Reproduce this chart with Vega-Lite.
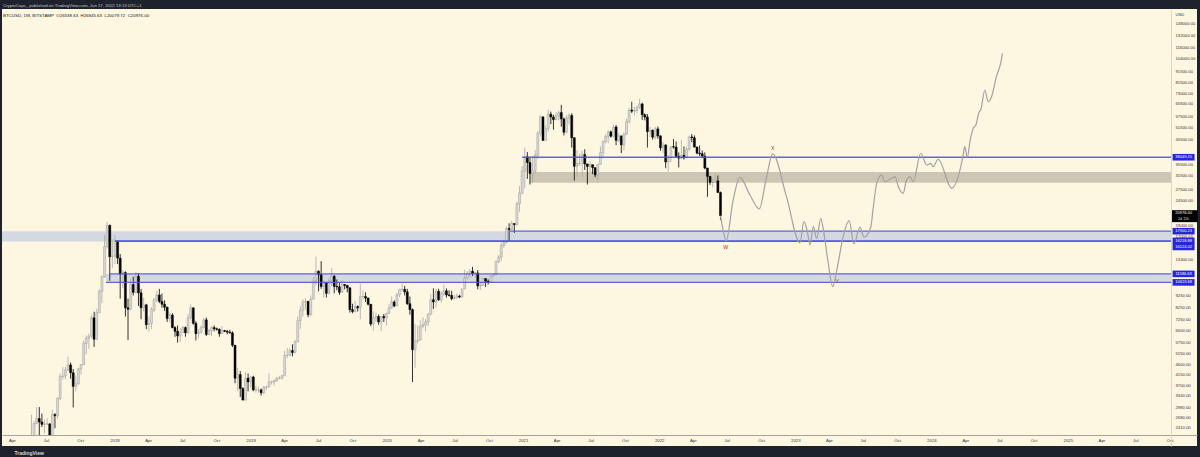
{
  "$schema": "https://vega.github.io/schema/vega-lite/v6.json",
  "width": 1195,
  "height": 437,
  "autosize": {"type": "none"},
  "padding": {"left": 2, "top": 9, "right": 3, "bottom": 11},
  "background": "#1e222d",
  "view": {"fill": "#fdf7e1", "stroke": null},
  "title": {
    "text": "CryptoCaps_ published on TradingView.com, Jun 17, 2022 13:13 UTC+1",
    "subtitle": "\u00a0BTCUSD,\u00a01W,\u00a0BITSTAMP\u00a0\u00a0O26538.63\u00a0\u00a0H26845.63\u00a0\u00a0L20079.72\u00a0\u00a0C20976.00",
    "anchor": "start",
    "frame": "group",
    "font": "Liberation Sans",
    "fontSize": 4.3,
    "fontWeight": "normal",
    "color": "#c3c6ce",
    "subtitleFont": "Liberation Sans",
    "subtitleFontSize": 4.4,
    "subtitleColor": "#131722",
    "subtitlePadding": 5.5,
    "offset": -8,
    "dx": 1,
    "zindex": 1
  },
  "datasets": {
    "candles": [
      {"d":"2017-05-01","o":1350,"h":1600,"l":1340,"c":1560},
      {"d":"2017-05-08","o":1560,"h":1860,"l":1530,"c":1790},
      {"d":"2017-05-15","o":1790,"h":2100,"l":1750,"c":2050},
      {"d":"2017-05-22","o":2050,"h":2760,"l":1950,"c":2200},
      {"d":"2017-05-29","o":2200,"h":2580,"l":2100,"c":2520},
      {"d":"2017-06-05","o":2520,"h":2980,"l":2500,"c":2650},
      {"d":"2017-06-12","o":2650,"h":2980,"l":2150,"c":2560},
      {"d":"2017-06-19","o":2560,"h":2790,"l":2430,"c":2500},
      {"d":"2017-06-26","o":2500,"h":2620,"l":2280,"c":2510},
      {"d":"2017-07-03","o":2510,"h":2660,"l":2480,"c":2510},
      {"d":"2017-07-10","o":2510,"h":2530,"l":1840,"c":1930},
      {"d":"2017-07-17","o":1930,"h":2900,"l":1830,"c":2760},
      {"d":"2017-07-24","o":2760,"h":2800,"l":2400,"c":2730},
      {"d":"2017-07-31","o":2730,"h":3300,"l":2650,"c":3250},
      {"d":"2017-08-07","o":3250,"h":4200,"l":3200,"c":4070},
      {"d":"2017-08-14","o":4070,"h":4480,"l":3950,"c":4090},
      {"d":"2017-08-21","o":4090,"h":4470,"l":3950,"c":4350},
      {"d":"2017-08-28","o":4350,"h":4980,"l":4300,"c":4580},
      {"d":"2017-09-04","o":4580,"h":4690,"l":3980,"c":4230},
      {"d":"2017-09-11","o":4230,"h":4390,"l":2970,"c":3680},
      {"d":"2017-09-18","o":3680,"h":4120,"l":3500,"c":3780},
      {"d":"2017-09-25","o":3780,"h":4450,"l":3750,"c":4400},
      {"d":"2017-10-02","o":4400,"h":4620,"l":4150,"c":4600},
      {"d":"2017-10-09","o":4600,"h":5860,"l":4580,"c":5700},
      {"d":"2017-10-16","o":5700,"h":6190,"l":5100,"c":6000},
      {"d":"2017-10-23","o":6000,"h":6300,"l":5400,"c":6140},
      {"d":"2017-10-30","o":6140,"h":7600,"l":6040,"c":7400},
      {"d":"2017-11-06","o":7400,"h":7880,"l":5500,"c":5950},
      {"d":"2017-11-13","o":5950,"h":8100,"l":5900,"c":7800},
      {"d":"2017-11-20","o":7800,"h":9900,"l":7780,"c":9700},
      {"d":"2017-11-27","o":9700,"h":11400,"l":8600,"c":11250},
      {"d":"2017-12-04","o":11250,"h":17200,"l":11100,"c":15300},
      {"d":"2017-12-11","o":15300,"h":19700,"l":15000,"c":19000},
      {"d":"2017-12-18","o":19000,"h":19150,"l":10800,"c":13800},
      {"d":"2017-12-25","o":13800,"h":16500,"l":12300,"c":13900},
      {"d":"2018-01-01","o":13900,"h":17250,"l":12800,"c":16200},
      {"d":"2018-01-08","o":16200,"h":16300,"l":12800,"c":13600},
      {"d":"2018-01-15","o":13600,"h":14200,"l":9000,"c":11550},
      {"d":"2018-01-22","o":11550,"h":12000,"l":10000,"c":11750},
      {"d":"2018-01-29","o":11750,"h":11900,"l":7500,"c":8200},
      {"d":"2018-02-05","o":8200,"h":9000,"l":5900,"c":8080},
      {"d":"2018-02-12","o":8080,"h":11000,"l":8000,"c":10400},
      {"d":"2018-02-19","o":10400,"h":11250,"l":9300,"c":9600},
      {"d":"2018-02-26","o":9600,"h":11800,"l":9500,"c":11300},
      {"d":"2018-03-05","o":11300,"h":11700,"l":8350,"c":9550},
      {"d":"2018-03-12","o":9550,"h":9950,"l":7300,"c":8200},
      {"d":"2018-03-19","o":8200,"h":9100,"l":7900,"c":8450},
      {"d":"2018-03-26","o":8450,"h":8540,"l":6600,"c":6900},
      {"d":"2018-04-02","o":6900,"h":7500,"l":6450,"c":7000},
      {"d":"2018-04-09","o":7000,"h":8250,"l":6600,"c":8050},
      {"d":"2018-04-16","o":8050,"h":9050,"l":7850,"c":8900},
      {"d":"2018-04-23","o":8900,"h":9750,"l":8700,"c":9350},
      {"d":"2018-04-30","o":9350,"h":9950,"l":8600,"c":8750},
      {"d":"2018-05-07","o":8750,"h":9480,"l":8200,"c":8500},
      {"d":"2018-05-14","o":8500,"h":8850,"l":7950,"c":8250},
      {"d":"2018-05-21","o":8250,"h":8300,"l":7100,"c":7350},
      {"d":"2018-05-28","o":7350,"h":7800,"l":7050,"c":7620},
      {"d":"2018-06-04","o":7620,"h":7760,"l":6650,"c":6700},
      {"d":"2018-06-11","o":6700,"h":6800,"l":6100,"c":6450},
      {"d":"2018-06-18","o":6450,"h":6850,"l":5750,"c":6150},
      {"d":"2018-06-25","o":6150,"h":6650,"l":5800,"c":6350},
      {"d":"2018-07-02","o":6350,"h":6800,"l":6350,"c":6700},
      {"d":"2018-07-09","o":6700,"h":6780,"l":6100,"c":6350},
      {"d":"2018-07-16","o":6350,"h":7700,"l":6300,"c":7400},
      {"d":"2018-07-23","o":7400,"h":8480,"l":7300,"c":8200},
      {"d":"2018-07-30","o":8200,"h":8200,"l":6900,"c":7000},
      {"d":"2018-08-06","o":7000,"h":7150,"l":5880,"c":6300},
      {"d":"2018-08-13","o":6300,"h":6620,"l":6000,"c":6400},
      {"d":"2018-08-20","o":6400,"h":6850,"l":6300,"c":6700},
      {"d":"2018-08-27","o":6700,"h":7400,"l":6650,"c":7250},
      {"d":"2018-09-03","o":7250,"h":7420,"l":6150,"c":6250},
      {"d":"2018-09-10","o":6250,"h":6600,"l":6200,"c":6500},
      {"d":"2018-09-17","o":6500,"h":6800,"l":6150,"c":6700},
      {"d":"2018-09-24","o":6700,"h":6850,"l":6450,"c":6620},
      {"d":"2018-10-01","o":6620,"h":6700,"l":6500,"c":6580},
      {"d":"2018-10-08","o":6580,"h":6650,"l":6100,"c":6300},
      {"d":"2018-10-15","o":6300,"h":6800,"l":6300,"c":6500},
      {"d":"2018-10-22","o":6500,"h":6550,"l":6400,"c":6450},
      {"d":"2018-10-29","o":6450,"h":6550,"l":6250,"c":6400},
      {"d":"2018-11-05","o":6400,"h":6550,"l":6300,"c":6350},
      {"d":"2018-11-12","o":6350,"h":6450,"l":5500,"c":5600},
      {"d":"2018-11-19","o":5600,"h":5600,"l":3800,"c":4000},
      {"d":"2018-11-26","o":4000,"h":4450,"l":3500,"c":4150},
      {"d":"2018-12-03","o":4150,"h":4300,"l":3300,"c":3600},
      {"d":"2018-12-10","o":3600,"h":3650,"l":3200,"c":3200},
      {"d":"2018-12-17","o":3200,"h":4250,"l":3200,"c":4000},
      {"d":"2018-12-24","o":4000,"h":4200,"l":3500,"c":3850},
      {"d":"2018-12-31","o":3850,"h":4100,"l":3650,"c":4050},
      {"d":"2019-01-07","o":4050,"h":4100,"l":3500,"c":3550},
      {"d":"2019-01-14","o":3550,"h":3700,"l":3450,"c":3550},
      {"d":"2019-01-21","o":3550,"h":3650,"l":3450,"c":3550},
      {"d":"2019-01-28","o":3550,"h":3600,"l":3350,"c":3450},
      {"d":"2019-02-04","o":3450,"h":3700,"l":3400,"c":3650},
      {"d":"2019-02-11","o":3650,"h":3700,"l":3550,"c":3650},
      {"d":"2019-02-18","o":3650,"h":4200,"l":3650,"c":3850},
      {"d":"2019-02-25","o":3850,"h":3900,"l":3750,"c":3850},
      {"d":"2019-03-04","o":3850,"h":3950,"l":3700,"c":3900},
      {"d":"2019-03-11","o":3900,"h":4050,"l":3850,"c":4000},
      {"d":"2019-03-18","o":4000,"h":4100,"l":3950,"c":4000},
      {"d":"2019-03-25","o":4000,"h":4150,"l":3950,"c":4100},
      {"d":"2019-04-01","o":4100,"h":5300,"l":4100,"c":5050},
      {"d":"2019-04-08","o":5050,"h":5450,"l":4900,"c":5050},
      {"d":"2019-04-15","o":5050,"h":5400,"l":5000,"c":5300},
      {"d":"2019-04-22","o":5300,"h":5650,"l":5000,"c":5200},
      {"d":"2019-04-29","o":5200,"h":5900,"l":5150,"c":5800},
      {"d":"2019-05-06","o":5800,"h":7500,"l":5750,"c":7200},
      {"d":"2019-05-13","o":7200,"h":8350,"l":6600,"c":8000},
      {"d":"2019-05-20","o":8000,"h":8950,"l":7500,"c":8700},
      {"d":"2019-05-27","o":8700,"h":9050,"l":8050,"c":8750},
      {"d":"2019-06-03","o":8750,"h":8800,"l":7450,"c":7650},
      {"d":"2019-06-10","o":7650,"h":9300,"l":7550,"c":8950},
      {"d":"2019-06-17","o":8950,"h":11200,"l":8950,"c":10800},
      {"d":"2019-06-24","o":10800,"h":13800,"l":10300,"c":11900},
      {"d":"2019-07-01","o":11900,"h":12000,"l":9700,"c":11500},
      {"d":"2019-07-08","o":11500,"h":13200,"l":9950,"c":10200},
      {"d":"2019-07-15","o":10200,"h":10850,"l":9100,"c":10600},
      {"d":"2019-07-22","o":10600,"h":10650,"l":9100,"c":9500},
      {"d":"2019-07-29","o":9500,"h":11050,"l":9400,"c":10800},
      {"d":"2019-08-05","o":10800,"h":12300,"l":10200,"c":11300},
      {"d":"2019-08-12","o":11300,"h":11450,"l":9500,"c":10200},
      {"d":"2019-08-19","o":10200,"h":10950,"l":9800,"c":10150},
      {"d":"2019-08-26","o":10150,"h":10650,"l":9350,"c":9600},
      {"d":"2019-09-02","o":9600,"h":10900,"l":9600,"c":10400},
      {"d":"2019-09-09","o":10400,"h":10450,"l":9900,"c":10300},
      {"d":"2019-09-16","o":10300,"h":10350,"l":9600,"c":10050},
      {"d":"2019-09-23","o":10050,"h":10100,"l":7800,"c":8050},
      {"d":"2019-09-30","o":8050,"h":8550,"l":7750,"c":7900},
      {"d":"2019-10-07","o":7900,"h":8800,"l":7800,"c":8300},
      {"d":"2019-10-14","o":8300,"h":8400,"l":7900,"c":8200},
      {"d":"2019-10-21","o":8200,"h":10500,"l":7300,"c":9200},
      {"d":"2019-10-28","o":9200,"h":9800,"l":8900,"c":9200},
      {"d":"2019-11-04","o":9200,"h":9600,"l":8700,"c":9050},
      {"d":"2019-11-11","o":9050,"h":9100,"l":8400,"c":8500},
      {"d":"2019-11-18","o":8500,"h":8500,"l":6800,"c":6950},
      {"d":"2019-11-25","o":6950,"h":7900,"l":6500,"c":7400},
      {"d":"2019-12-02","o":7400,"h":7800,"l":7100,"c":7500},
      {"d":"2019-12-09","o":7500,"h":7650,"l":6900,"c":7100},
      {"d":"2019-12-16","o":7100,"h":7500,"l":6450,"c":7500},
      {"d":"2019-12-23","o":7500,"h":7700,"l":7100,"c":7400},
      {"d":"2019-12-30","o":7400,"h":7800,"l":6850,"c":7750},
      {"d":"2020-01-06","o":7750,"h":8500,"l":7700,"c":8200},
      {"d":"2020-01-13","o":8200,"h":9200,"l":8100,"c":8700},
      {"d":"2020-01-20","o":8700,"h":8850,"l":8250,"c":8350},
      {"d":"2020-01-27","o":8350,"h":9550,"l":8350,"c":9350},
      {"d":"2020-02-03","o":9350,"h":9950,"l":9150,"c":9900},
      {"d":"2020-02-10","o":9900,"h":10500,"l":9700,"c":9900},
      {"d":"2020-02-17","o":9900,"h":10250,"l":9300,"c":9650},
      {"d":"2020-02-24","o":9650,"h":9950,"l":8450,"c":8550},
      {"d":"2020-03-02","o":8550,"h":9200,"l":7650,"c":8050},
      {"d":"2020-03-09","o":8050,"h":8150,"l":3850,"c":5350},
      {"d":"2020-03-16","o":5350,"h":6950,"l":4450,"c":5850},
      {"d":"2020-03-23","o":5850,"h":6850,"l":5700,"c":5900},
      {"d":"2020-03-30","o":5900,"h":7200,"l":5880,"c":6800},
      {"d":"2020-04-06","o":6800,"h":7450,"l":6650,"c":6900},
      {"d":"2020-04-13","o":6900,"h":7300,"l":6450,"c":7100},
      {"d":"2020-04-20","o":7100,"h":7750,"l":6800,"c":7700},
      {"d":"2020-04-27","o":7700,"h":9450,"l":7600,"c":8900},
      {"d":"2020-05-04","o":8900,"h":10000,"l":8100,"c":8700},
      {"d":"2020-05-11","o":8700,"h":9950,"l":8200,"c":9700},
      {"d":"2020-05-18","o":9700,"h":9950,"l":8800,"c":8900},
      {"d":"2020-05-25","o":8900,"h":9700,"l":8650,"c":9450},
      {"d":"2020-06-01","o":9450,"h":10400,"l":9250,"c":9750},
      {"d":"2020-06-08","o":9750,"h":9990,"l":9100,"c":9350},
      {"d":"2020-06-15","o":9350,"h":9800,"l":9200,"c":9300},
      {"d":"2020-06-22","o":9300,"h":9750,"l":8850,"c":9000},
      {"d":"2020-06-29","o":9000,"h":9350,"l":8950,"c":9050},
      {"d":"2020-07-06","o":9050,"h":9450,"l":9050,"c":9250},
      {"d":"2020-07-13","o":9250,"h":9350,"l":9050,"c":9150},
      {"d":"2020-07-20","o":9150,"h":9950,"l":9100,"c":9950},
      {"d":"2020-07-27","o":9950,"h":12100,"l":9950,"c":11100},
      {"d":"2020-08-03","o":11100,"h":11900,"l":10950,"c":11550},
      {"d":"2020-08-10","o":11550,"h":12200,"l":11150,"c":11900},
      {"d":"2020-08-17","o":11900,"h":12450,"l":11350,"c":11650},
      {"d":"2020-08-24","o":11650,"h":11800,"l":11150,"c":11700},
      {"d":"2020-08-31","o":11700,"h":12050,"l":9900,"c":10250},
      {"d":"2020-09-07","o":10250,"h":10600,"l":9850,"c":10300},
      {"d":"2020-09-14","o":10300,"h":11150,"l":10250,"c":11050},
      {"d":"2020-09-21","o":11050,"h":11050,"l":10150,"c":10750},
      {"d":"2020-09-28","o":10750,"h":10950,"l":10400,"c":10650},
      {"d":"2020-10-05","o":10650,"h":11450,"l":10550,"c":11350},
      {"d":"2020-10-12","o":11350,"h":11700,"l":11200,"c":11500},
      {"d":"2020-10-19","o":11500,"h":13300,"l":11400,"c":13100},
      {"d":"2020-10-26","o":13100,"h":14050,"l":12950,"c":13750},
      {"d":"2020-11-02","o":13750,"h":15950,"l":13250,"c":15500},
      {"d":"2020-11-09","o":15500,"h":16450,"l":15100,"c":15950},
      {"d":"2020-11-16","o":15950,"h":18800,"l":15800,"c":18400},
      {"d":"2020-11-23","o":18400,"h":19400,"l":16200,"c":18200},
      {"d":"2020-11-30","o":18200,"h":19900,"l":18100,"c":19350},
      {"d":"2020-12-07","o":19350,"h":19400,"l":17600,"c":19150},
      {"d":"2020-12-14","o":19150,"h":24200,"l":19000,"c":23700},
      {"d":"2020-12-21","o":23700,"h":28400,"l":21800,"c":26400},
      {"d":"2020-12-28","o":26400,"h":34800,"l":26100,"c":33000},
      {"d":"2021-01-04","o":33000,"h":41950,"l":27700,"c":38200},
      {"d":"2021-01-11","o":38200,"h":40100,"l":30500,"c":36050},
      {"d":"2021-01-18","o":36050,"h":37800,"l":28800,"c":32250},
      {"d":"2021-01-25","o":32250,"h":38500,"l":29200,"c":33100},
      {"d":"2021-02-01","o":33100,"h":40900,"l":32300,"c":38850},
      {"d":"2021-02-08","o":38850,"h":49700,"l":37400,"c":48650},
      {"d":"2021-02-15","o":48650,"h":58350,"l":47000,"c":57450},
      {"d":"2021-02-22","o":57450,"h":57500,"l":44900,"c":45200},
      {"d":"2021-03-01","o":45200,"h":52600,"l":45000,"c":50950},
      {"d":"2021-03-08","o":50950,"h":61800,"l":49300,"c":59000},
      {"d":"2021-03-15","o":59000,"h":60600,"l":53300,"c":57350},
      {"d":"2021-03-22","o":57350,"h":58600,"l":50400,"c":55800},
      {"d":"2021-03-29","o":55800,"h":60100,"l":55500,"c":58200},
      {"d":"2021-04-05","o":58200,"h":61200,"l":55500,"c":60000},
      {"d":"2021-04-12","o":60000,"h":64900,"l":52000,"c":56200},
      {"d":"2021-04-19","o":56200,"h":57000,"l":47500,"c":49100},
      {"d":"2021-04-26","o":49100,"h":58400,"l":48500,"c":56600},
      {"d":"2021-05-03","o":56600,"h":59500,"l":53100,"c":58250},
      {"d":"2021-05-10","o":58250,"h":59600,"l":42000,"c":46400},
      {"d":"2021-05-17","o":46400,"h":46600,"l":30000,"c":34700},
      {"d":"2021-05-24","o":34700,"h":40900,"l":31200,"c":35650},
      {"d":"2021-05-31","o":35650,"h":39500,"l":34800,"c":35800},
      {"d":"2021-06-07","o":35800,"h":40700,"l":31100,"c":39100},
      {"d":"2021-06-14","o":39100,"h":41300,"l":33400,"c":35550},
      {"d":"2021-06-21","o":35550,"h":35500,"l":28800,"c":34650},
      {"d":"2021-06-28","o":34650,"h":36600,"l":32700,"c":35300},
      {"d":"2021-07-05","o":35300,"h":35100,"l":32100,"c":34250},
      {"d":"2021-07-12","o":34250,"h":34000,"l":31000,"c":31800},
      {"d":"2021-07-19","o":31800,"h":35400,"l":29300,"c":35400},
      {"d":"2021-07-26","o":35400,"h":42500,"l":35200,"c":39850},
      {"d":"2021-08-02","o":39850,"h":45300,"l":37600,"c":44600},
      {"d":"2021-08-09","o":44600,"h":48100,"l":43800,"c":47050},
      {"d":"2021-08-16","o":47050,"h":50000,"l":43900,"c":49300},
      {"d":"2021-08-23","o":49300,"h":49900,"l":46400,"c":47150},
      {"d":"2021-08-30","o":47150,"h":52900,"l":46700,"c":51800},
      {"d":"2021-09-06","o":51800,"h":52800,"l":43000,"c":45200},
      {"d":"2021-09-13","o":45200,"h":48800,"l":44300,"c":47300},
      {"d":"2021-09-20","o":47300,"h":47400,"l":39700,"c":43150},
      {"d":"2021-09-27","o":43150,"h":49000,"l":40800,"c":48200},
      {"d":"2021-10-04","o":48200,"h":56400,"l":47600,"c":54650},
      {"d":"2021-10-11","o":54650,"h":62900,"l":53900,"c":61550},
      {"d":"2021-10-18","o":61550,"h":67000,"l":59800,"c":60900},
      {"d":"2021-10-25","o":60900,"h":63700,"l":58100,"c":61300},
      {"d":"2021-11-01","o":61300,"h":64300,"l":59500,"c":63300},
      {"d":"2021-11-08","o":63300,"h":69000,"l":62400,"c":65500},
      {"d":"2021-11-15","o":65500,"h":66300,"l":55700,"c":58700},
      {"d":"2021-11-22","o":58700,"h":59500,"l":55400,"c":57300},
      {"d":"2021-11-29","o":57300,"h":59100,"l":42000,"c":49400},
      {"d":"2021-12-06","o":49400,"h":51900,"l":46800,"c":50100},
      {"d":"2021-12-13","o":50100,"h":50500,"l":45500,"c":46700},
      {"d":"2021-12-20","o":46700,"h":51900,"l":45600,"c":50800},
      {"d":"2021-12-27","o":50800,"h":52000,"l":45900,"c":47300},
      {"d":"2022-01-03","o":47300,"h":47500,"l":40600,"c":41900},
      {"d":"2022-01-10","o":41900,"h":44500,"l":39700,"c":43100},
      {"d":"2022-01-17","o":43100,"h":43500,"l":34000,"c":36250},
      {"d":"2022-01-24","o":36250,"h":38900,"l":32900,"c":37900},
      {"d":"2022-01-31","o":37900,"h":42600,"l":36200,"c":42400},
      {"d":"2022-02-07","o":42400,"h":45800,"l":41600,"c":42200},
      {"d":"2022-02-14","o":42200,"h":44700,"l":37900,"c":38400},
      {"d":"2022-02-21","o":38400,"h":40000,"l":34300,"c":37700},
      {"d":"2022-02-28","o":37700,"h":45400,"l":37200,"c":38800},
      {"d":"2022-03-07","o":38800,"h":42500,"l":37200,"c":37800},
      {"d":"2022-03-14","o":37800,"h":42300,"l":37600,"c":41300},
      {"d":"2022-03-21","o":41300,"h":47500,"l":40500,"c":46800},
      {"d":"2022-03-28","o":46800,"h":48200,"l":44300,"c":46400},
      {"d":"2022-04-04","o":46400,"h":47500,"l":42100,"c":42200},
      {"d":"2022-04-11","o":42200,"h":42400,"l":39200,"c":39700},
      {"d":"2022-04-18","o":39700,"h":42900,"l":38600,"c":39450},
      {"d":"2022-04-25","o":39450,"h":40800,"l":37700,"c":38500},
      {"d":"2022-05-02","o":38500,"h":40000,"l":33700,"c":34050},
      {"d":"2022-05-09","o":34050,"h":34200,"l":25400,"c":31300},
      {"d":"2022-05-16","o":31300,"h":31300,"l":28700,"c":29450},
      {"d":"2022-05-23","o":29450,"h":30600,"l":28000,"c":29450},
      {"d":"2022-05-30","o":29450,"h":32400,"l":29300,"c":29900},
      {"d":"2022-06-06","o":29900,"h":31600,"l":26600,"c":26540},
      {"d":"2022-06-13","o":26538.63,"h":26845.63,"l":20079.72,"c":20976}
    ],
    "path": [
      {"d":"2022-06-13","p":20976},{"d":"2022-06-20","p":18120},{"d":"2022-06-28","p":16200},
      {"d":"2022-07-17","p":24620},{"d":"2022-08-04","p":31020},{"d":"2022-08-31","p":25900},
      {"d":"2022-09-25","p":22450},{"d":"2022-10-13","p":30180},{"d":"2022-10-31","p":39340},
      {"d":"2022-12-07","p":25460},{"d":"2023-01-12","p":15920},{"d":"2023-01-23","p":19730},
      {"d":"2023-02-01","p":17820},{"d":"2023-02-08","p":15560},{"d":"2023-02-17","p":18740},
      {"d":"2023-02-26","p":16650},{"d":"2023-03-09","p":20420},{"d":"2023-03-16","p":18130},
      {"d":"2023-03-29","p":12910},{"d":"2023-04-10","p":10170},{"d":"2023-04-21","p":12050},
      {"d":"2023-05-08","p":16930},{"d":"2023-05-24","p":19920},{"d":"2023-06-06","p":15720},
      {"d":"2023-06-22","p":18630},{"d":"2023-07-03","p":16830},{"d":"2023-07-21","p":18630},
      {"d":"2023-07-28","p":22990},{"d":"2023-08-06","p":29170},{"d":"2023-08-19","p":31760},
      {"d":"2023-08-28","p":29660},{"d":"2023-09-15","p":30700},{"d":"2023-09-24","p":31210},
      {"d":"2023-10-03","p":28180},{"d":"2023-10-16","p":26340},{"d":"2023-10-25","p":30180},
      {"d":"2023-11-03","p":31210},{"d":"2023-11-12","p":29660},{"d":"2023-12-02","p":39620},
      {"d":"2023-12-18","p":35160},{"d":"2023-12-29","p":35770},{"d":"2024-01-04","p":34560},
      {"d":"2024-01-18","p":37270},{"d":"2024-02-23","p":27720},{"d":"2024-03-25","p":38940},
      {"d":"2024-03-29","p":42370},{"d":"2024-04-05","p":38040},{"d":"2024-04-12","p":44600},
      {"d":"2024-04-21","p":51110},{"d":"2024-04-28","p":52860},{"d":"2024-05-07","p":60540},
      {"d":"2024-05-11","p":61600},{"d":"2024-05-22","p":75520},{"d":"2024-05-31","p":67030},
      {"d":"2024-06-09","p":70540},{"d":"2024-06-22","p":86500},{"d":"2024-07-06","p":104300},
      {"d":"2024-07-08","p":109800}
    ],
    "zones": [
      {"kind":"blue","lo":16124.02,"hi":17900.23,"d":"2017-03-04","d2":"2025-10-04"},
      {"kind":"blue","lo":10623.68,"hi":11586.63,"d":"2017-12-08","d2":"2025-10-04"},
      {"kind":"gray","lo":29370,"hi":32750,"d":"2021-01-18","d2":"2025-10-04"}
    ],
    "lines": [
      {"p":38049.25,"d":"2020-12-28","d2":"2025-10-04"},
      {"p":17900.23,"d":"2020-11-24","d2":"2025-10-04"},
      {"p":16218.88,"d":"2018-01-01","d2":"2025-10-04"},
      {"p":16124.02,"d":"2018-01-01","d2":"2025-10-04"},
      {"p":11586.63,"d":"2017-12-18","d2":"2025-10-04"},
      {"p":10623.68,"d":"2017-12-08","d2":"2025-10-04"}
    ],
    "waves": [
      {"t":"W","d":"2022-06-27","p":15290},
      {"t":"X","d":"2022-10-31","p":41690},
      {"t":"Y","d":"2023-04-22","p":10810}
    ],
    "tags": [
      {"p":38049.25,"lab":"38049.25"},
      {"p":17900.23,"lab":"17900.23"},
      {"p":16218.88,"lab":"16218.88"},
      {"p":16124.02,"lab":"16124.02"},
      {"p":11586.63,"lab":"11586.63"},
      {"p":10623.68,"lab":"10623.68"}
    ],
    "last": [
      {"p":20976,"lab":"20976.00","cd":"2d 11h"}
    ],
    "xticks": [
      {"d":"2017-04-01","lab":"Apr","yr":false},{"d":"2017-07-01","lab":"Jul","yr":false},{"d":"2017-10-01","lab":"Oct","yr":false},
      {"d":"2018-01-01","lab":"2018","yr":true},{"d":"2018-04-01","lab":"Apr","yr":false},{"d":"2018-07-01","lab":"Jul","yr":false},{"d":"2018-10-01","lab":"Oct","yr":false},
      {"d":"2019-01-01","lab":"2019","yr":true},{"d":"2019-04-01","lab":"Apr","yr":false},{"d":"2019-07-01","lab":"Jul","yr":false},{"d":"2019-10-01","lab":"Oct","yr":false},
      {"d":"2020-01-01","lab":"2020","yr":true},{"d":"2020-04-01","lab":"Apr","yr":false},{"d":"2020-07-01","lab":"Jul","yr":false},{"d":"2020-10-01","lab":"Oct","yr":false},
      {"d":"2021-01-01","lab":"2021","yr":true},{"d":"2021-04-01","lab":"Apr","yr":false},{"d":"2021-07-01","lab":"Jul","yr":false},{"d":"2021-10-01","lab":"Oct","yr":false},
      {"d":"2022-01-01","lab":"2022","yr":true},{"d":"2022-04-01","lab":"Apr","yr":false},{"d":"2022-07-01","lab":"Jul","yr":false},{"d":"2022-10-01","lab":"Oct","yr":false},
      {"d":"2023-01-01","lab":"2023","yr":true},{"d":"2023-04-01","lab":"Apr","yr":false},{"d":"2023-07-01","lab":"Jul","yr":false},{"d":"2023-10-01","lab":"Oct","yr":false},
      {"d":"2024-01-01","lab":"2024","yr":true},{"d":"2024-04-01","lab":"Apr","yr":false},{"d":"2024-07-01","lab":"Jul","yr":false},{"d":"2024-10-01","lab":"Oct","yr":false},
      {"d":"2025-01-01","lab":"2025","yr":true},{"d":"2025-04-01","lab":"Apr","yr":false},{"d":"2025-07-01","lab":"Jul","yr":false},{"d":"2025-10-01","lab":"Oct","yr":false}
    ]
  },
  "layer": [
    {
      "data": {"name": "zones"},
      "mark": {"type": "rect", "clip": true},
      "encoding": {
        "x": {
          "field": "d", "type": "temporal",
          "scale": {"domain": [{"year":2017,"month":3,"date":4},{"year":2025,"month":12,"date":12}], "nice": false, "padding": 0},
          "axis": {
            "orient": "bottom", "offset": -11, "zindex": 1,
            "labels": false, "ticks": false, "tickSize": 0, "grid": false,
            "domain": true, "domainColor": "#a5a39a", "domainWidth": 1,
            "title": "TradingView", "titleX": 12, "titleY": 17.5, "titleAlign": "left", "titleBaseline": "middle",
            "titleFont": "Liberation Sans", "titleFontSize": 5, "titleFontWeight": "bold", "titleColor": "#d1d4dc"
          }
        },
        "x2": {"field": "d2"},
        "y": {
          "field": "lo", "type": "quantitative",
          "scale": {"type": "log", "domain": [2004, 172450], "nice": false, "zero": false, "padding": 0},
          "axis": {
            "orient": "right", "offset": -26, "zindex": 1,
            "values": [2410, 2680, 2980, 3340, 3700, 4150, 4600, 5150, 5750, 6500, 7250, 8250, 9250, 13400, 17000, 19000, 24500, 27500, 31500, 35500, 45500, 51500, 57500, 65500, 73000, 81500, 91500, 104000, 116000, 132000, 148000],
            "format": ".2f",
            "ticks": false, "tickSize": 0, "grid": false,
            "domain": true, "domainColor": "#dcd7c4", "domainWidth": 1,
            "labelFont": "Liberation Sans", "labelFontSize": 4.2, "labelColor": "#2e3240",
            "labelPadding": 4, "labelAlign": "left", "labelBaseline": "middle", "labelFlush": false, "labelOverlap": false,
            "title": "USD", "titleAngle": 0, "titleX": 4, "titleY": 5, "titleAlign": "left", "titleBaseline": "middle",
            "titleFont": "Liberation Sans", "titleFontSize": 4.2, "titleFontWeight": "normal", "titleColor": "#2e3240"
          }
        },
        "y2": {"field": "hi"},
        "fill": {"condition": {"test": "datum.kind == 'gray'", "value": "#cdc6b4"}, "value": "#d4d9e1"}
      }
    },
    {
      "data": {"name": "candles"},
      "mark": {"type": "rule", "clip": true, "strokeWidth": 0.8},
      "encoding": {
        "x": {"field": "d", "type": "temporal"},
        "y": {"field": "l", "type": "quantitative"},
        "y2": {"field": "h"},
        "stroke": {"condition": {"test": "datum.c >= datum.o", "value": "#a8a8a8"}, "value": "#000000"}
      }
    },
    {
      "data": {"name": "candles"},
      "mark": {"type": "bar", "clip": true, "size": 2, "strokeWidth": 0.5},
      "encoding": {
        "x": {"field": "d", "type": "temporal"},
        "y": {"field": "o", "type": "quantitative"},
        "y2": {"field": "c"},
        "fill": {"condition": {"test": "datum.c >= datum.o", "value": "#d8d8d8"}, "value": "#000000"},
        "stroke": {"condition": {"test": "datum.c >= datum.o", "value": "#9e9e9e"}, "value": "#000000"}
      }
    },
    {
      "data": {"name": "lines"},
      "mark": {"type": "rule", "clip": true, "strokeWidth": 1.3, "color": "#5252dc", "opacity": 0.9},
      "encoding": {
        "x": {"field": "d", "type": "temporal"},
        "x2": {"field": "d2"},
        "y": {"field": "p", "type": "quantitative"}
      }
    },
    {
      "data": {"values": [{}]},
      "mark": {"type": "rect", "clip": true, "fill": "#fdf7e1"},
      "encoding": {
        "x": {"datum": {"year":2017,"month":3,"date":4}, "type": "temporal"},
        "x2": {"datum": {"year":2025,"month":12,"date":12}},
        "y": {"datum": 2004, "type": "quantitative"},
        "y2": {"datum": 2242}
      }
    },
    {
      "data": {"name": "xticks"},
      "mark": {"type": "text", "clip": true, "font": "Liberation Sans", "fontSize": 4.3, "color": "#2e3240", "align": "center", "baseline": "middle"},
      "encoding": {
        "x": {"field": "d", "type": "temporal"},
        "y": {"datum": 2110, "type": "quantitative"},
        "text": {"field": "lab"},
        "fontWeight": {"condition": {"test": "datum.yr", "value": "bold"}, "value": "normal"}
      }
    },
    {
      "data": {"name": "path"},
      "mark": {"type": "line", "clip": true, "interpolate": "monotone", "color": "#a2a2a2", "strokeWidth": 1.2},
      "encoding": {
        "x": {"field": "d", "type": "temporal"},
        "y": {"field": "p", "type": "quantitative"}
      }
    },
    {
      "data": {"name": "waves"},
      "mark": {"type": "text", "font": "Liberation Sans", "fontSize": 5.2, "color": "#b0282a", "align": "center", "baseline": "middle"},
      "encoding": {
        "x": {"field": "d", "type": "temporal"},
        "y": {"field": "p", "type": "quantitative"},
        "text": {"field": "t"}
      }
    },
    {
      "data": {"name": "tags"},
      "transform": [{"filter": "datum.p != 16124.02"}],
      "mark": {"type": "point", "shape": "M-1,-0.3H1V0.3H-1Z", "size": 484, "filled": true, "color": "#2626e0", "opacity": 1, "strokeWidth": 0},
      "encoding": {
        "x": {"datum": {"year":2025,"month":11,"date":6}, "type": "temporal"},
        "y": {"field": "p", "type": "quantitative"}
      }
    },
    {
      "data": {"name": "tags"},
      "transform": [{"filter": "datum.p == 16124.02"}],
      "mark": {"type": "point", "shape": "M-1,-0.3H1V0.3H-1Z", "size": 484, "filled": true, "color": "#2626e0", "opacity": 1, "strokeWidth": 0, "yOffset": 5.5},
      "encoding": {
        "x": {"datum": {"year":2025,"month":11,"date":6}, "type": "temporal"},
        "y": {"field": "p", "type": "quantitative"}
      }
    },
    {
      "data": {"name": "tags"},
      "transform": [{"filter": "datum.p != 16124.02"}],
      "mark": {"type": "text", "font": "Liberation Sans", "fontSize": 4, "color": "#ffffff", "align": "center", "baseline": "middle"},
      "encoding": {
        "x": {"datum": {"year":2025,"month":11,"date":6}, "type": "temporal"},
        "y": {"field": "p", "type": "quantitative"},
        "text": {"field": "lab"}
      }
    },
    {
      "data": {"name": "tags"},
      "transform": [{"filter": "datum.p == 16124.02"}],
      "mark": {"type": "text", "font": "Liberation Sans", "fontSize": 4, "color": "#ffffff", "align": "center", "baseline": "middle", "yOffset": 5.5},
      "encoding": {
        "x": {"datum": {"year":2025,"month":11,"date":6}, "type": "temporal"},
        "y": {"field": "p", "type": "quantitative"},
        "text": {"field": "lab"}
      }
    },
    {
      "data": {"name": "last"},
      "mark": {"type": "point", "shape": "M-1,-0.46H1V0.46H-1Z", "size": 676, "filled": true, "color": "#000000", "opacity": 1, "strokeWidth": 0, "yOffset": 0.5},
      "encoding": {
        "x": {"datum": {"year":2025,"month":11,"date":9}, "type": "temporal"},
        "y": {"field": "p", "type": "quantitative"}
      }
    },
    {
      "data": {"name": "last"},
      "mark": {"type": "text", "font": "Liberation Sans", "fontSize": 4, "color": "#ffffff", "align": "center", "baseline": "middle", "yOffset": -2.2},
      "encoding": {
        "x": {"datum": {"year":2025,"month":11,"date":6}, "type": "temporal"},
        "y": {"field": "p", "type": "quantitative"},
        "text": {"field": "lab"}
      }
    },
    {
      "data": {"name": "last"},
      "mark": {"type": "text", "font": "Liberation Sans", "fontSize": 3.8, "color": "#d1d4dc", "align": "center", "baseline": "middle", "yOffset": 3.2},
      "encoding": {
        "x": {"datum": {"year":2025,"month":11,"date":6}, "type": "temporal"},
        "y": {"field": "p", "type": "quantitative"},
        "text": {"field": "cd"}
      }
    }
  ]
}
